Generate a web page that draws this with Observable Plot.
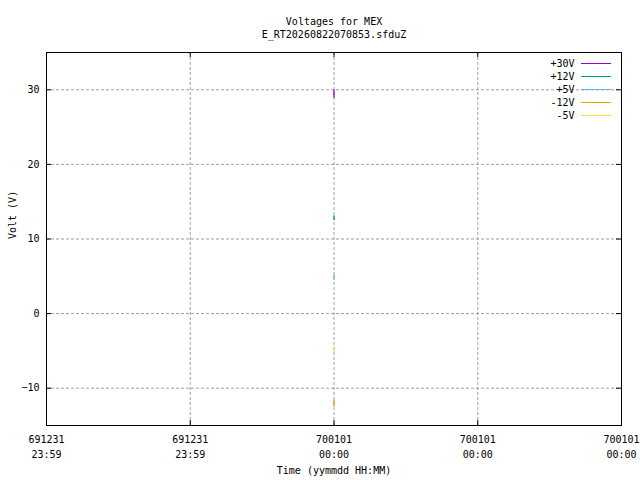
<!DOCTYPE html>
<html>
<head>
<meta charset="utf-8">
<script src="https://cdn.jsdelivr.net/npm/d3@7"></script>
<script src="https://cdn.jsdelivr.net/npm/@observablehq/plot@0.6"></script>
<style>
  html, body { margin: 0; padding: 0; background: #fff; }
</style>
</head>
<body>
<div id="chart"></div>
<script>
// ---- data ----
const titleLines = ["Voltages for MEX", "E_RT20260822070853.sfduZ"];
const series = ["+30V", "+12V", "+5V", "-12V", "-5V"];
const seriesColors = ["#9400d3", "#009e73", "#56b4e9", "#e69f00", "#f0e442"];
const sampleTime = [0, 0];               // seconds from epoch (all samples at same instant)
const v30 = [30.0, 29.0];
const v12 = [13.1, 12.6];
const v5 = [5.15, 4.7];
const vm12 = [-11.6, -12.4];
const vm5 = [-4.7, -5.2];
const yTicks = [-10, 0, 10, 20, 30];
const yDomain = [-15, 35];
const xTicks = [-1, -0.5, 0, 0.5, 1];
const xDomain = [-1, 1];
const xTickLabels = ["691231\n23:59", "691231\n23:59", "700101\n00:00", "700101\n00:00", "700101\n00:00"];
const xLabel = "Time (yymmdd HH:MM)";
const yLabel = "Volt (V)";

const valuesBySeries = [v30, v12, v5, vm12, vm5];
const rows = [];
series.forEach((s, i) => valuesBySeries[i].forEach((v, j) => rows.push({series: s, t: sampleTime[j], v})));

const gridColor = "#a0a0a0";
const lineShape = {draw(ctx, l) { ctx.moveTo(0, 0); ctx.lineTo(0, -l); }};

const marks = [
  Plot.gridY(yTicks, {stroke: gridColor, strokeOpacity: 1, strokeDasharray: "3,2"}),
  Plot.gridX(xTicks.slice(1, -1), {stroke: gridColor, strokeOpacity: 1, strokeDasharray: "3,2"}),
  // inward ticks (left/right mirrored)
  Plot.tickY(yTicks, {y: d => d, stroke: "black", insetRight: 570}),
  Plot.tickY(yTicks, {y: d => d, stroke: "black", insetLeft: 570}),
  Plot.tickX(xTicks, {x: d => d, stroke: "black", insetTop: 368}),
  Plot.tickX(xTicks, {x: d => d, stroke: "black", insetBottom: 368}),
  Plot.line(rows, {x: "t", y: "v", z: "series", stroke: "series", strokeWidth: 1.3}),
  Plot.frame({stroke: "black"}),
  Plot.axisY(yTicks, {tickSize: 0, tickPadding: 7, label: null, fontSize: 10}),
  Plot.text(xTicks, {x: d => d, text: (d, i) => xTickLabels[i], frameAnchor: "bottom", lineAnchor: "top", dy: 7, lineHeight: 1.5, fontSize: 10}),
  Plot.text([xLabel], {frameAnchor: "bottom", lineAnchor: "middle", dy: 45, fontSize: 10}),
  Plot.text([yLabel], {frameAnchor: "left", rotate: -90, dx: -34, fontSize: 10}),
  Plot.text([titleLines[0]], {frameAnchor: "top", lineAnchor: "middle", dy: -31, fontSize: 10}),
  Plot.text([titleLines[1]], {frameAnchor: "top", lineAnchor: "middle", dy: -18, fontSize: 10}),
  ...series.map((s, i) => Plot.text([s], {frameAnchor: "top-right", textAnchor: "end", lineAnchor: "middle", dx: -47, dy: 11 + 13 * i, fontSize: 10})),
  ...series.map((s, i) => Plot.vector([s], {frameAnchor: "top-right", dx: -40, dy: 11 + 13 * i, length: 29, rotate: 90, anchor: "start", shape: lineShape, stroke: seriesColors[i], strokeWidth: 1})),
];

const chart = Plot.plot({
  width: 640,
  height: 480,
  marginLeft: 46,
  marginRight: 19,
  marginTop: 52,
  marginBottom: 55,
  style: {fontFamily: "'DejaVu Sans Mono', monospace", fontSize: "10px", background: "#fff", color: "black"},
  x: {type: "linear", domain: xDomain, axis: null},
  y: {domain: yDomain, axis: null},
  color: {domain: series, range: seriesColors},
  marks
});
document.getElementById("chart").appendChild(chart);
</script>
</body>
</html>
